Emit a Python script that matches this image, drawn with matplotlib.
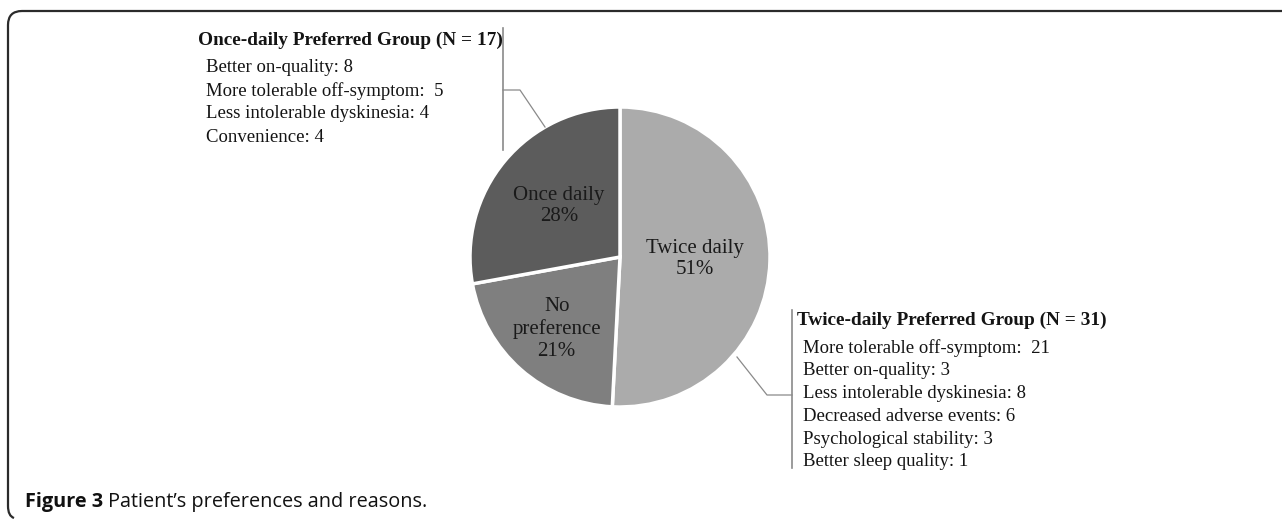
import matplotlib

matplotlib.use("Agg")
import matplotlib.pyplot as plt
import numpy as np
from matplotlib.path import Path
from matplotlib.patches import PathPatch

W, H = 1282, 519

# --- data -----------------------------------------------------------------
categories = ["Twice daily", "No\npreference", "Once daily"]
counts = [31, 13, 17]
slice_colors = ["#ababab", "#7f7f7f", "#5c5c5c"]
label_dist = [0.50, 0.64, 0.53]

once_title = "Once-daily Preferred Group (N = 17)"
once_reasons = [
    "Better on-quality: 8",
    "More tolerable off-symptom:  5",
    "Less intolerable dyskinesia: 4",
    "Convenience: 4",
]
twice_title = "Twice-daily Preferred Group (N = 31)"
twice_reasons = [
    "More tolerable off-symptom:  21",
    "Better on-quality: 3",
    "Less intolerable dyskinesia: 8",
    "Decreased adverse events: 6",
    "Psychological stability: 3",
    "Better sleep quality: 1",
]

SERIF = "Liberation Serif"
LINE = "#8a8a8a"
INK = "#141414"


def y(v):
    # image rows (top down) -> axes coords (bottom up)
    return H - v


fig = plt.figure(figsize=(W / 100, H / 100), dpi=100)
ax = fig.add_axes([0, 0, 1, 1])

# --- pie --------------------------------------------------------------------
cx, cy, r = 620, y(257), 150
wedges, _ = ax.pie(
    counts,
    colors=slice_colors,
    startangle=90,
    counterclock=False,
    center=(cx, cy),
    radius=r,
    wedgeprops=dict(edgecolor="white", linewidth=2.5),
)
ax.set_xlim(0, W)
ax.set_ylim(0, H)
ax.set_aspect("equal")
ax.axis("off")

total = sum(counts)
for w, cat, n, d in zip(wedges, categories, counts, label_dist):
    mid = np.deg2rad((w.theta1 + w.theta2) / 2)
    ax.text(
        cx + d * r * np.cos(mid),
        cy + d * r * np.sin(mid),
        f"{cat}\n{n / total:.0%}",
        ha="center",
        va="center",
        family=SERIF,
        fontsize=15,
        color="#1a1a1a",
        linespacing=1.2,
    )

# --- reason blocks -----------------------------------------------------------
ax.text(198, y(40), once_title, family=SERIF, weight="bold", fontsize=13.9,
        va="center", ha="left", color=INK)
for i, s in enumerate(once_reasons):
    ax.text(206, y(68 + 23 * i), s, family=SERIF, fontsize=13.5,
            va="center", ha="left", color=INK)

ax.text(797, y(320), twice_title, family=SERIF, weight="bold", fontsize=13.9,
        va="center", ha="left", color=INK)
for i, s in enumerate(twice_reasons):
    ax.text(803, y(348 + 22.8 * i), s, family=SERIF, fontsize=13.5,
            va="center", ha="left", color=INK)

# bracket lines + leaders
ax.plot([503, 503], [y(28), y(150)], color=LINE, lw=1.2)
ax.plot([503, 520, 545], [y(90), y(90), y(127)], color=LINE, lw=0.9)
ax.plot([792, 792], [y(310), y(468)], color=LINE, lw=1.2)
ax.plot([737, 767, 792], [y(357), y(395), y(395)], color=LINE, lw=0.9)

# --- frame (top + left edge, rounded corner) ------------------------------
verts = [(W, y(11)), (22, y(11)), (8, y(11)), (8, y(25)),
         (8, y(506)), (8, y(516)), (14, y(518))]
codes = [Path.MOVETO, Path.LINETO, Path.CURVE3, Path.CURVE3,
         Path.LINETO, Path.CURVE3, Path.CURVE3]
ax.add_patch(PathPatch(Path(verts, codes), fill=False, edgecolor="#2b2b2b", lw=1.6))

# --- caption ----------------------------------------------------------------
cap = ax.text(25, y(502), "Figure 3", family="Open Sans", weight="bold",
              fontsize=14.3, va="center", ha="left", color="#111111")
fig.canvas.draw()
bb = cap.get_window_extent()
x_next = ax.transData.inverted().transform((bb.x1, bb.y0))[0]
ax.text(x_next + 5, y(502), "Patient\u2019s preferences and reasons.",
        family="Open Sans", fontsize=14.3, va="center", ha="left", color="#111111")

fig.savefig("out.png", dpi=100, facecolor="white")
